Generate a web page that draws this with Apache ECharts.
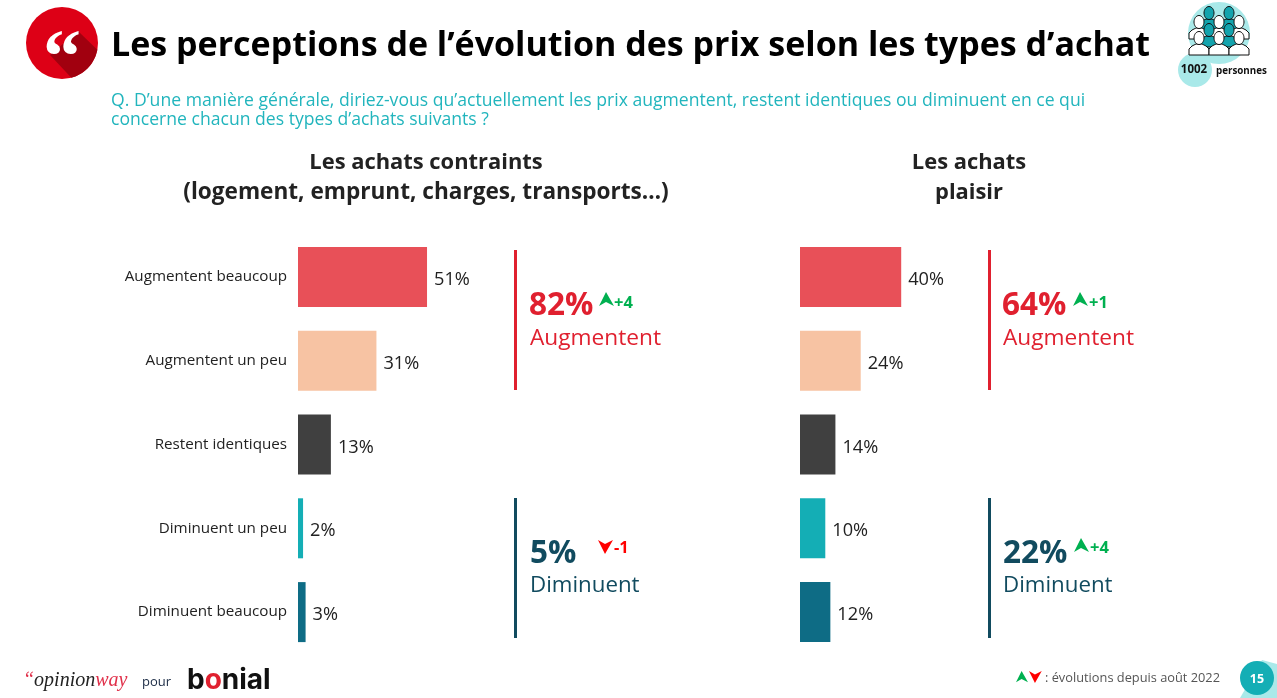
<!DOCTYPE html>
<html><head><meta charset="utf-8">
<style>html,body{margin:0;padding:0;background:#fff}#c{width:1277px;height:698px}</style>
<script src="https://cdn.jsdelivr.net/npm/echarts@6/dist/echarts.min.js"></script>
</head><body><div id="c"></div>
<script>
const categories = ['Augmentent beaucoup','Augmentent un peu','Restent identiques','Diminuent un peu','Diminuent beaucoup'];
const contraintsValues = [51,31,13,2,3];
const plaisirValues = [40,24,14,10,12];
const barColors = ['#E85058','#F7C3A3','#404040','#14AEB5','#0E6C85'];
const titleText = 'Les perceptions de l’évolution des prix selon les types d’achat';
const questionLines = ['Q. D’une manière générale, diriez-vous qu’actuellement les prix augmentent, restent identiques ou diminuent en ce qui','concerne chacun des types d’achats suivants ?'];
const F = '"Open Sans"';
const RED='#E0202F', NAVY='#114B5F', GREEN='#00B050', ARED='#FF0000';
const T=(x,y,text,size,fill,weight,align)=>({type:'text',x,y,style:{text,font:`${weight||'normal'} ${size}px ${F}`,fill,textAlign:align||'left',textVerticalAlign:'middle'}});
const up=(x,y,s)=>{s=s||1;return {type:'polygon',shape:{points:[[x,y+14*s],[x+7*s,y],[x+15*s,y+14*s],[x+7*s,y+10*s]]},style:{fill:GREEN}}};
const down=(x,y,s)=>{s=s||1;return {type:'polygon',shape:{points:[[x,y],[x+7*s,y+4*s],[x+15*s,y],[x+7*s,y+14*s]]},style:{fill:ARED}}};
const g=[];
// quote icon
g.push({type:'circle',shape:{cx:62,cy:43,r:36},style:{fill:'#DD0016'}});
(function(){const p=[[50,55],[78,31]];for(let a=11;a<=77;a+=4){p.push([62+36*Math.cos(a*Math.PI/180),43+36*Math.sin(a*Math.PI/180)])}
g.push({type:'polygon',shape:{points:p},style:{fill:'#A1000F'}})})();
g.push({type:'text',x:43,y:24,style:{text:'“',font:'bold 76px "Liberation Serif"',fill:'#fff'}});
g.push(T(111,46,titleText,34,'#000','bold'));
g.push(T(111,101,questionLines[0],17.6,'#22B5BD'));
g.push(T(111,120,questionLines[1],17.6,'#22B5BD'));
// panel headings
g.push(T(426,163,'Les achats contraints',21.9,'#222','bold','center'));
g.push(T(426,193,'(logement, emprunt, charges, transports…)',22.6,'#222','bold','center'));
g.push(T(969,163,'Les achats',21.9,'#222','bold','center'));
g.push(T(969,193,'plaisir',21.9,'#222','bold','center'));
// summaries
const vline=(x,y1,y2,c)=>({type:'rect',shape:{x:x,y:y1,width:3,height:y2-y1},style:{fill:c}});
g.push(vline(514,250,390,RED),vline(514,498,638,NAVY),vline(988,250,390,RED),vline(988,498,638,NAVY));
g.push(T(529,306,'82%',31.5,RED,'bold'),T(530,339,'Augmentent',22.7,RED),up(599,292),T(614,303,'+4',16.5,GREEN,'bold'));
g.push(T(530,554,'5%',31.5,NAVY,'bold'),T(530,586,'Diminuent',22.3,NAVY),down(598,540),T(614,548,'-1',16.5,ARED,'bold'));
g.push(T(1002,306,'64%',31.5,RED,'bold'),T(1003,339,'Augmentent',22.7,RED),up(1073,292),T(1089,303,'+1',16.5,GREEN,'bold'));
g.push(T(1003,554,'22%',31.5,NAVY,'bold'),T(1003,586,'Diminuent',22.3,NAVY),up(1074,538),T(1090,548,'+4',16.5,GREEN,'bold'));
// sample icon
g.push({type:'circle',shape:{cx:1219,cy:33,r:31},style:{fill:'#A9E9E9'}});
g.push({type:'circle',shape:{cx:1195,cy:70,r:17},style:{fill:'#A9E9E9'}});
function person(x,y,f){
  g.push({type:'polygon',shape:{points:[[x-10,y+17],[x-10,y+11],[x-7,y+8],[x-3,y+6],[x+3,y+6],[x+7,y+8],[x+10,y+11],[x+10,y+17]]},style:{fill:f,stroke:'#111',lineWidth:1}});
  g.push({type:'ellipse',shape:{cx:x,cy:y,rx:5,ry:6.5},style:{fill:f,stroke:'#111',lineWidth:1}});
}
[[1209,13],[1229,13]].forEach(p=>person(p[0],p[1],'#14A3AD'));
[[1199,22],[1219,22],[1239,22]].forEach(p=>person(p[0],p[1],'#fff'));
[[1209,30],[1229,30]].forEach(p=>person(p[0],p[1],'#14A3AD'));
[[1199,38],[1219,38],[1239,38]].forEach(p=>person(p[0],p[1],'#fff'));
g.push(T(1194,70,'1002',11.5,'#111','bold','center'));
g.push(T(1216,71,'personnes',9.8,'#111','bold'));
// footer
g.push({type:'text',x:23,y:681,style:{rich:{a:{font:'italic 20px "Liberation Serif"',fill:'#222'},b:{font:'italic 20px "Liberation Serif"',fill:'#E0304A'}},text:'{b|“}{a|opinion}{b|way}',textVerticalAlign:'middle'}});
g.push(T(142,682,'pour',13,'#1a2a44'));
g.push({type:'text',x:187,y:681,style:{rich:{a:{font:'bold 28px Inter',fill:'#111'},b:{font:'bold 28px Inter',fill:'#E0202F'}},text:'{a|b}{b|o}{a|nial}',textVerticalAlign:'middle'}});
g.push(up(1016,671,0.8),down(1029,671,0.85));
g.push(T(1045,678,': évolutions depuis août 2022',12.8,'#555'));
g.push({type:'polygon',shape:{points:[[1240,698],[1262,660],[1277,664],[1277,698]]},style:{fill:'#A9E9E9'}});
g.push({type:'circle',shape:{cx:1257,cy:678,r:17},style:{fill:'#14AEB5'}});
g.push(T(1257,679,'15',12.5,'#fff','bold','center'));

const grids=[{left:298,top:235,width:253,height:419},{left:800,top:235,width:253,height:419}];
const mkBar=(values,i)=>({type:'bar',xAxisIndex:i,yAxisIndex:i,barWidth:60,silent:true,animation:false,
  data:values.map((v,k)=>({value:v,itemStyle:{color:barColors[k]}})),
  label:{show:true,position:'right',distance:7,offset:[0,3],formatter:'{c}%',fontFamily:F,fontSize:18.2,color:'#222'}});
const chart=echarts.init(document.getElementById('c'));
chart.setOption({
  animation:false,backgroundColor:'#fff',
  grid:grids,
  xAxis:grids.map((_,i)=>({gridIndex:i,type:'value',min:0,max:100,show:false})),
  yAxis:[
    {gridIndex:0,type:'category',inverse:true,data:categories,axisLine:{show:false},axisTick:{show:false},
     axisLabel:{margin:11,fontFamily:F,fontSize:15.2,color:'#222',padding:[2,0,0,0]}},
    {gridIndex:1,type:'category',inverse:true,data:categories,show:false}
  ],
  series:[mkBar(contraintsValues,0),mkBar(plaisirValues,1)],
  graphic:{elements:g}
});
</script></body></html>
